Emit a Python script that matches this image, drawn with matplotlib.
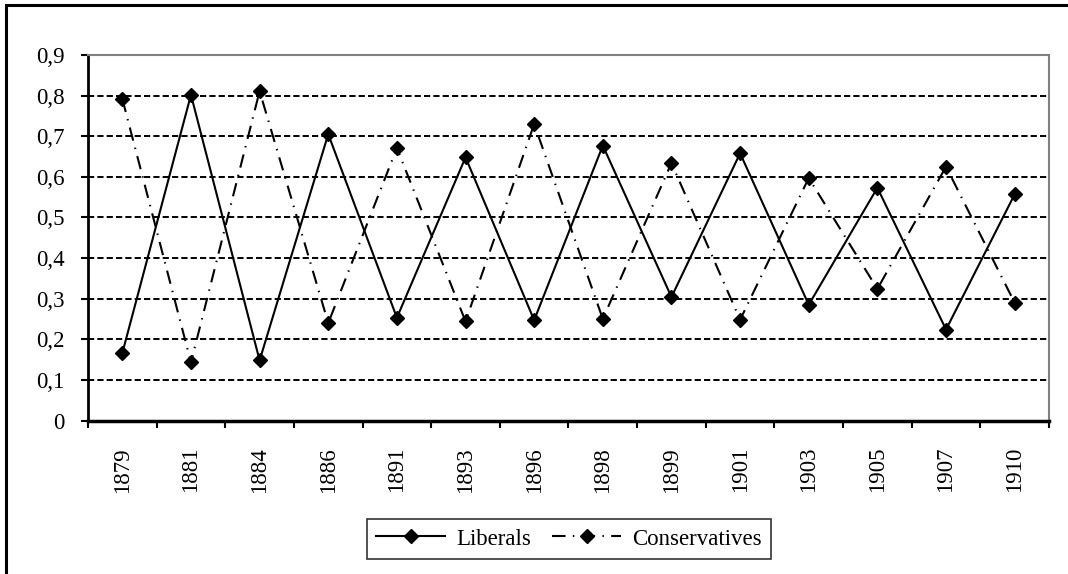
import matplotlib.pyplot as plt
from matplotlib.patches import Rectangle
from matplotlib.ticker import FixedLocator, FuncFormatter

# election years and vote shares
years = ['1879', '1881', '1884', '1886', '1891', '1893', '1896',
         '1898', '1899', '1901', '1903', '1905', '1907', '1910']
liberals = [0.166, 0.802, 0.148, 0.705, 0.253, 0.648, 0.247,
            0.677, 0.304, 0.658, 0.285, 0.573, 0.224, 0.557]
conservatives = [0.792, 0.143, 0.811, 0.240, 0.671, 0.244, 0.730,
                 0.250, 0.634, 0.248, 0.597, 0.324, 0.625, 0.290]
y_ticks = [0, 0.1, 0.2, 0.3, 0.4, 0.5, 0.6, 0.7, 0.8, 0.9]

plt.rcParams['font.family'] = ['Liberation Serif', 'DejaVu Serif']
plt.rcParams['font.size'] = 16.5

fig = plt.figure(figsize=(10.68, 5.74), dpi=100)
ax = fig.add_axes([0.0824, 0.2674, 0.8998, 0.6368])

# outer frame (only left and top edges show in the crop)
fig.patches.append(Rectangle((0.0056, -0.1), 1.2, 1.0912, transform=fig.transFigure,
                             fill=False, edgecolor='black', linewidth=2.2, clip_on=False))

x = list(range(len(years)))

for v in y_ticks[1:-1]:
    ax.axhline(v, color='black', linewidth=1.4, linestyle=(0, (3.2, 1.6)), zorder=1)

ax.plot(x, liberals, color='black', linewidth=1.5, marker='D', markersize=7,
        label='Liberals', zorder=3)
ax.plot(x, conservatives, color='black', linewidth=1.5, marker='D', markersize=7,
        dashes=(6.5, 3.5, 0.7, 3.5), label='Conservatives', zorder=3)

ax.set_xlim(-0.5, len(years) - 0.5)
ax.set_ylim(0, 0.9)

ax.xaxis.set_major_locator(FixedLocator([i - 0.5 for i in range(len(years) + 1)]))
ax.xaxis.set_major_formatter(FuncFormatter(lambda v, p: ''))
ax.xaxis.set_minor_locator(FixedLocator(x))
ax.set_xticklabels(years, minor=True, rotation=90, va='top', ha='center')
ax.tick_params(axis='x', which='major', direction='out', length=5, width=1.5, color='black')
ax.tick_params(axis='x', which='minor', length=0, pad=19)

ax.set_yticks(y_ticks)
ax.yaxis.set_major_formatter(FuncFormatter(
    lambda v, p: '0' if abs(v) < 1e-9 else ('%.1f' % v).replace('.', ',')))
ax.tick_params(axis='y', direction='out', length=5, width=1.5, pad=12)

ax.spines['left'].set_linewidth(2)
ax.spines['bottom'].set_linewidth(2.5)
ax.spines['top'].set_color('#808080')
ax.spines['top'].set_linewidth(1.5)
ax.spines['right'].set_color('#808080')
ax.spines['right'].set_linewidth(1.5)

leg = fig.legend(loc='center', bbox_to_anchor=(0.533, 0.061), ncol=2, frameon=True,
                 fancybox=False, edgecolor='black', handlelength=3.0, handletextpad=0.5,
                 columnspacing=0.9, borderpad=0.4, fontsize=16.5)
leg.get_frame().set_linewidth(1.2)

fig.savefig('out.png', dpi=100)
